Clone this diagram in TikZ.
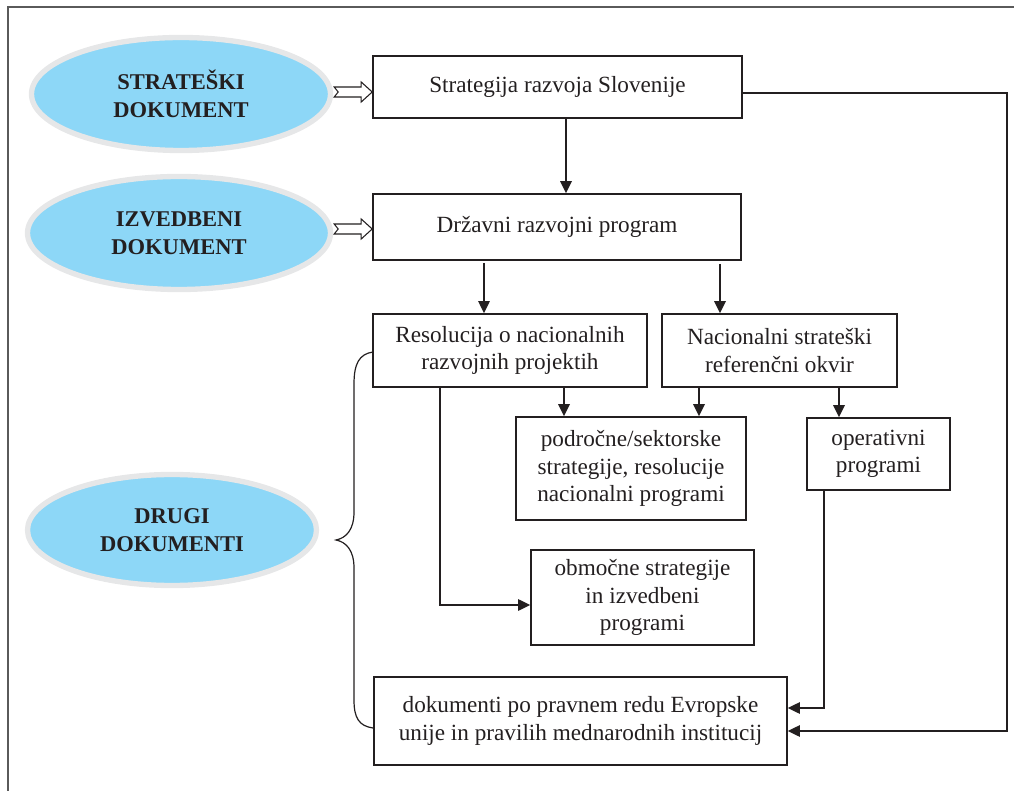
\documentclass[tikz,border=0pt]{standalone}
\usepackage{fontspec}
\setmainfont{Liberation Serif}
\usetikzlibrary{shapes.geometric,arrows.meta,calc}
\definecolor{ink}{HTML}{231F20}
\definecolor{sky}{HTML}{8DD7F7}
\definecolor{ring}{HTML}{E6E7E8}
\definecolor{framegray}{HTML}{5A5A5A}
\begin{document}
\begin{tikzpicture}[x=0.75pt,y=-0.75pt,
 every node/.style={text=ink},
 oval/.style={ellipse, draw=ring, fill=sky, line width=4pt, font=\fontsize{16.9}{21}\selectfont\bfseries, align=center, inner sep=0pt},
 docbox/.style={draw=ink, line width=1.2pt, align=center, font=\fontsize{17.4}{20.5}\selectfont, inner sep=0pt},
 arr/.style={draw=ink, line width=1.2pt, -{Triangle[length=9pt,width=8.5pt]}},
 thickarr/.style={arr, line width=1.7pt},
 hollow/.style={draw=ink, line width=0.8pt, fill=white, line join=miter},
]
\useasboundingbox (0,0) rectangle (1014,791);
\draw[framegray, line width=1.3pt] (8,791) -- (8,7) -- (1014,7);

% ellipses
\node[oval, minimum width=299*0.75pt, minimum height=113*0.75pt] (e1) at (181,94) {STRATEŠKI\\DOKUMENT};
\node[oval, minimum width=303*0.75pt, minimum height=113*0.75pt] (e2) at (179,233) {IZVEDBENI\\DOKUMENT};
\node[oval, minimum width=289*0.75pt, minimum height=111*0.75pt] (e3) at (172,530) {DRUGI\\DOKUMENTI};

% boxes
\node[docbox, minimum width=369*0.75pt, minimum height=62*0.75pt] (b1) at (557.5,87) {Strategija razvoja Slovenije};
\node[docbox, minimum width=368*0.75pt, minimum height=66*0.75pt] (b2) at (557,227) {Državni razvojni program};
\node[docbox, minimum width=274*0.75pt, minimum height=73*0.75pt] (b3) at (510,350.5) {Resolucija o nacionalnih\\razvojnih projektih};
\node[docbox, minimum width=235*0.75pt, minimum height=73*0.75pt] (b4) at (779.5,350.5) {Nacionalni strateški\\referenčni okvir};
\node[docbox, minimum width=230*0.75pt, minimum height=103*0.75pt] (b5) at (631,468.5) {področne/sektorske\\strategije, resolucije\\nacionalni programi};
\node[docbox, minimum width=143*0.75pt, minimum height=72*0.75pt] (b6) at (878.5,454) {operativni\\programi};
\node[docbox, minimum width=223*0.75pt, minimum height=95*0.75pt] (b7) at (642.5,597.5) {območne strategije\\in izvedbeni\\programi};
\node[docbox, minimum width=413*0.75pt, minimum height=88*0.75pt] (b8) at (580.5,721) {dokumenti po pravnem redu Evropske\\unije in pravilih mednarodnih institucij};

% hollow arrows from ellipses to boxes
\coordinate (t1) at ($(b1.west)+(0,5)$);
\coordinate (t2) at ($(b2.west)+(0,2)$);
\foreach \t in {t1,t2}{
 \draw[hollow] (\t) -- ++(-11,-10) -- ++(0,5) -- ++(-27,0) -- ++(4,5) -- ++(-4,5) -- ++(27,0) -- ++(0,5) -- cycle;
}

% vertical arrows
\coordinate (p1) at ($(b1.south)+(8.5,0)$);
\draw[thickarr] (p1) -- (p1 |- b2.north);
\coordinate (p2) at ($(b2.south)+(-73,2)$);
\draw[arr] (p2) -- (p2 |- b3.north);
\coordinate (p3) at ($(b2.south)+(163,3)$);
\draw[thickarr] (p3) -- (p3 |- b4.north);
\coordinate (p4) at ($(b3.south)+(54,0)$);
\draw[thickarr] (p4) -- (p4 |- b5.north);
\coordinate (p5) at ($(b4.south)+(-80.5,0)$);
\draw[thickarr] (p5) -- (p5 |- b5.north);
\coordinate (p6) at ($(b4.south)+(59.5,0)$);
\draw[thickarr] (p6) -- (p6 |- b6.north);

% elbow connectors
\coordinate (q1) at ($(b3.south)+(-70,0)$);
\draw[arr] (q1) |- ($(b7.west)+(0,7.5)$);
\coordinate (q2) at ($(b6.south)+(-54.5,0)$);
\draw[arr] (q2) |- ($(b8.east)+(0,-13)$);
\coordinate (q3) at ($(b1.east)+(0,6)$);
\draw[arr] (q3) -- ++(264,0) |- ($(b8.east)+(0,10)$);

% brace
\draw[ink, line width=0.9pt] (373,352) .. controls (359,354) and (354,364) .. (354,384) -- (354,512)
  .. controls (354,530) and (346,538) .. (336,540)
  .. controls (346,542) and (354,550) .. (354,568) -- (354,700)
  .. controls (354,718) and (359,726) .. (373,728);
\end{tikzpicture}
\end{document}
